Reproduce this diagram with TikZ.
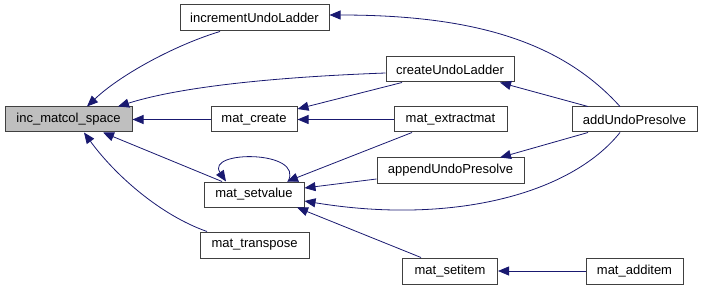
\documentclass[tikz,border=0pt]{standalone}
\usepackage{fontspec}
\setmainfont{Liberation Sans}
\usetikzlibrary{arrows.meta}
\definecolor{edgeblue}{HTML}{191970}
\definecolor{boxline}{HTML}{404040}
\definecolor{hlfill}{HTML}{BFBFBF}
\begin{document}
\begin{tikzpicture}[x=1pt,y=-1pt,
  fn/.style={draw=boxline,line width=1pt,rectangle,inner sep=0pt,
    font=\fontsize{13}{15}\selectfont,fill=white},
  calls/.style={draw=edgeblue,line width=0.8pt,
    -{Triangle[length=11pt,width=9pt,fill=edgeblue]}}]
\useasboundingbox (0,0) rectangle (703,291);

% functions
\node[fn,fill=hlfill,minimum width=127pt,minimum height=25pt] (inc) at (68.5,119.5) {inc\_matcol\_space};
\node[fn,minimum width=149pt,minimum height=26pt] (iul) at (254.5,18) {incrementUndoLadder};
\node[fn,minimum width=86pt,minimum height=25pt] (mc) at (254,119.5) {mat\_create};
\node[fn,minimum width=100pt,minimum height=25pt] (msv) at (254,194.5) {mat\_setvalue};
\node[fn,minimum width=109pt,minimum height=26pt] (mtr) at (254.5,245) {mat\_transpose};
\node[fn,minimum width=128pt,minimum height=25pt] (cul) at (450,69.5) {createUndoLadder};
\node[fn,minimum width=113pt,minimum height=25pt] (mex) at (450.5,119.5) {mat\_extractmat};
\node[fn,minimum width=147pt,minimum height=25pt] (apu) at (450.5,170.5) {appendUndoPresolve};
\node[fn,minimum width=95pt,minimum height=26pt] (msi) at (450,271) {mat\_setitem};
\node[fn,minimum width=125pt,minimum height=25pt] (aup) at (634.5,119.5) {addUndoPresolve};
\node[fn,minimum width=97pt,minimum height=26pt] (mai) at (634.5,271) {mat\_additem};

% callers of inc_matcol_space
\draw[calls] ([xshift=-34.5pt]iul.south) .. controls (175,45) and (120,75) .. ([xshift=18.5pt]inc.north);
\draw[calls] ([yshift=-3.5pt]cul.west) .. controls (250,78) and (170,90) .. ([xshift=49.5pt]inc.north);
\draw[calls] (mc.west) -- (inc.east);
\draw[calls] ([xshift=-32pt]msv.north) -- ([xshift=34.5pt]inc.south);
\draw[calls] ([xshift=-47.5pt]mtr.north) .. controls (160,215) and (115,175) .. ([xshift=15.5pt]inc.south);

% recursive call
\draw[calls] ([xshift=34pt]msv.north) .. controls (305,150) and (205,150) .. ([xshift=-28pt]msv.north);

% callers of mat_create
\draw[calls] ([xshift=-48pt]cul.south) -- ([yshift=10.5pt]mc.east);
\draw[calls] (mex.west) -- (mc.east);

% callers of mat_setvalue
\draw[calls] ([xshift=-38.5pt]mex.south) -- ([xshift=33pt]msv.north);
\draw[calls] ([yshift=-8.5pt]apu.west) -- ([yshift=6.5pt]msv.east);
\draw[calls] ([xshift=-14.5pt]aup.south) .. controls (570,195) and (450,225) .. ([yshift=-6.5pt]msv.east);
\draw[calls] ([xshift=-29pt]msi.north) -- ([xshift=43pt]msv.south);

% addUndoPresolve
\draw[calls] ([xshift=-14.5pt]aup.north) .. controls (560,40) and (470,15) .. ([yshift=3pt]iul.east);
\draw[calls] ([xshift=-46.5pt]aup.north) -- ([xshift=50pt]cul.south);
\draw[calls] ([xshift=-46.5pt]aup.south) -- ([xshift=49.5pt]apu.north);

% mat_additem
\draw[calls] (mai.west) -- (msi.east);
\end{tikzpicture}
\end{document}
